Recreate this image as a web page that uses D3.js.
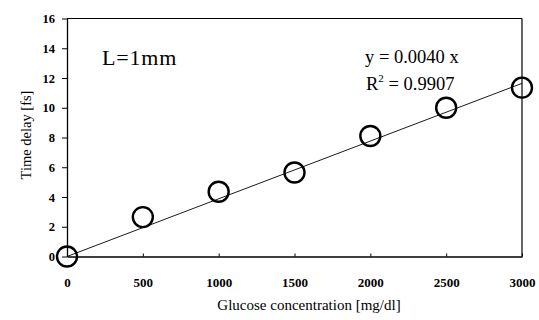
<!DOCTYPE html>
<html><head><meta charset="utf-8">
<script src="https://cdn.jsdelivr.net/npm/d3@7"></script>
<style>body{margin:0;background:#fff}svg{display:block}</style>
</head><body>
<svg id="c" width="539" height="320"></svg>
<script>
const concentrations = [0, 500, 1000, 1500, 2000, 2500, 3000];
const delays = [0, 2.65, 4.35, 5.65, 8.1, 10.0, 11.35];
const xTicks = [0, 500, 1000, 1500, 2000, 2500, 3000];
const yTicks = [0, 2, 4, 6, 8, 10, 12, 14, 16];
const trendSlope = 0.00388;
const trendRange = [0, 3000];

const svg = d3.select("#c");
const L = 67, R = 522, T = 18.5, B = 256.5;
const x = d3.scaleLinear().domain([0, 3000]).range([L, R]);
const y = d3.scaleLinear().domain([0, 16]).range([B, T]);
const font = "'Liberation Serif', 'Times New Roman', serif";

// frame
svg.append("line").attr("x1", L).attr("x2", R).attr("y1", T).attr("y2", T).attr("stroke", "#000").attr("stroke-width", 1);
svg.append("line").attr("x1", R).attr("x2", R).attr("y1", T).attr("y2", B).attr("stroke", "#000").attr("stroke-width", 1.2);

const yAxis = svg.append("g").attr("transform", `translate(${L},0)`)
  .call(d3.axisLeft(y).tickValues(yTicks).tickFormat(d3.format("d")).tickSize(5).tickPadding(7).tickSizeOuter(0));
const xAxis = svg.append("g").attr("transform", `translate(0,${B})`)
  .call(d3.axisBottom(x).tickValues(xTicks).tickFormat(d3.format("d")).tickSize(-3).tickPadding(21).tickSizeOuter(0));
[xAxis, yAxis].forEach(g => {
  g.select(".domain").attr("stroke", "#000").attr("stroke-width", 1.3);
  g.selectAll(".tick line").attr("stroke", "#000");
  g.selectAll("text").attr("font-family", font).attr("font-weight", "bold").attr("fill", "#000");
});
yAxis.selectAll("text").attr("font-size", 12.5);
xAxis.selectAll("text").attr("font-size", 13);

// trendline
svg.append("line")
  .attr("x1", x(trendRange[0])).attr("y1", y(trendSlope * trendRange[0]))
  .attr("x2", x(trendRange[1])).attr("y2", y(trendSlope * trendRange[1]))
  .attr("stroke", "#000").attr("stroke-width", 0.9);

// points
svg.selectAll("circle.p").data(concentrations).enter().append("circle")
  .attr("class", "p")
  .attr("cx", d => x(d)).attr("cy", (d, i) => y(delays[i]))
  .attr("r", 10).attr("fill", "none").attr("stroke", "#000").attr("stroke-width", 2.4);

// texts
svg.append("text").attr("x", 309).attr("y", 310).attr("text-anchor", "middle")
  .attr("font-family", font).attr("font-size", 15).text("Glucose concentration [mg/dl]");
svg.append("text").attr("transform", "translate(31,135) rotate(-90)").attr("text-anchor", "middle")
  .attr("font-family", font).attr("font-size", 14.5).text("Time delay [fs]");
svg.append("text").attr("x", 102).attr("y", 65).attr("letter-spacing", 0.8)
  .attr("font-family", font).attr("font-size", 22).text("L=1mm");
svg.append("text").attr("x", 365).attr("y", 63)
  .attr("font-family", font).attr("font-size", 18.5).text("y = 0.0040 x");
const r2 = svg.append("text").attr("x", 366).attr("y", 90)
  .attr("font-family", font).attr("font-size", 18.5);
r2.append("tspan").text("R");
r2.append("tspan").attr("dy", -8).attr("font-size", 11).text("2");
r2.append("tspan").attr("dy", 8).text(" = 0.9907");
</script>
</body></html>
